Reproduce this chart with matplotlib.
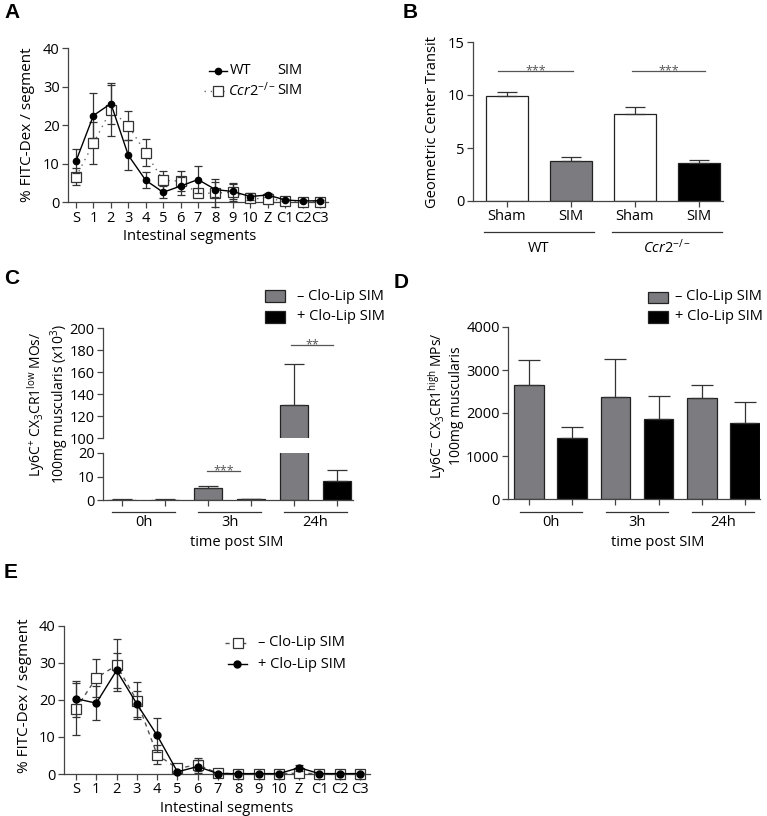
import matplotlib
matplotlib.use('Agg')
import matplotlib.pyplot as plt
import matplotlib.transforms as mtransforms
from matplotlib.lines import Line2D
from matplotlib.patches import Rectangle
import numpy as np

W, H = 767, 816

# ---- data ----
segments = ['S', '1', '2', '3', '4', '5', '6', '7', '8', '9', '10', 'Z', 'C1', 'C2', 'C3']

# panel A: WT SIM vs Ccr2-/- SIM
wt_mean = [10.7, 22.5, 25.6, 12.2, 5.7, 2.6, 4.2, 5.9, 3.3, 2.8, 1.5, 1.9, 0.6, 0.35, 0.4]
wt_err = [3.2, 5.8, 5.2, 3.9, 2.1, 1.6, 2.4, 3.5, 2.0, 2.0, 0.8, 0.5, 0.3, 0.2, 0.2]
ccr2_mean = [6.6, 15.3, 23.9, 19.9, 12.8, 5.7, 5.5, 2.3, 2.4, 2.6, 1.0, 0.9, 0.4, 0.2, 0.2]
ccr2_err = [2.2, 5.4, 6.6, 3.8, 3.5, 2.4, 2.6, 0.8, 3.6, 2.3, 1.0, 0.6, 0.3, 0.2, 0.2]

# panel B: geometric center
b_labels = ['Sham', 'SIM', 'Sham', 'SIM']
b_groups = ['WT', r'$\mathit{Ccr2}^{-/-}$']
b_mean = [9.95, 3.8, 8.2, 3.6]
b_err = [0.35, 0.35, 0.7, 0.23]
b_colors = ['white', '#7c7c80', 'white', 'black']

# panel C / D: time post SIM
times = ['0h', '3h', '24h']
c_minus = [0.2, 5.0, 130]
c_minus_err = [0.1, 1.1, 37]
c_plus = [0.2, 0.3, 8.1]
c_plus_err = [0.05, 0.05, 4.5]

d_minus = [2650, 2380, 2355]
d_minus_err = [580, 885, 300]
d_plus = [1430, 1850, 1765]
d_plus_err = [240, 550, 500]

# panel E: -/+ Clo-Lip SIM
minus_mean = [17.6, 25.9, 29.3, 19.8, 5.2, 1.5, 2.5, 0.2, 0.1, 0.1, 0.1, 0.2, 0.1, 0.1, 0.1]
minus_err = [7.0, 5.2, 7.0, 5.1, 2.6, 0.3, 1.8, 0.2, 0.1, 0.1, 0.1, 0.3, 0.1, 0.1, 0.1]
plus_mean = [20.3, 19.1, 27.9, 18.9, 10.4, 0.6, 2.0, 0.1, 0.1, 0.1, 0.1, 1.7, 0.1, 0.1, 0.1]
plus_err = [4.9, 4.5, 4.7, 3.6, 4.6, 0.3, 1.7, 0.1, 0.1, 0.1, 0.1, 0.8, 0.1, 0.1, 0.1]

# ---- style ----
plt.rcParams['font.family'] = ['Open Sans', 'DejaVu Sans']
plt.rcParams['mathtext.fontset'] = 'custom'
plt.rcParams['mathtext.rm'] = 'Open Sans'
plt.rcParams['mathtext.it'] = 'Open Sans:italic'
plt.rcParams['font.size'] = 10
plt.rcParams['axes.linewidth'] = 0.9
plt.rcParams['axes.edgecolor'] = '#444444'
plt.rcParams['xtick.color'] = '#444444'
plt.rcParams['ytick.color'] = '#444444'
plt.rcParams['xtick.labelcolor'] = 'black'
plt.rcParams['ytick.labelcolor'] = 'black'

GREY = '#7c7c80'
INK = '#333333'

fig = plt.figure(figsize=(W / 100, H / 100), dpi=100)


def fx(x):
    return x / W


def fy(y):
    return 1 - y / H


def box(x0, x1, ytop, ybot):
    return fig.add_axes([fx(x0), fy(ybot), (x1 - x0) / W, (ybot - ytop) / H])


def style(ax, bottom=True):
    ax.spines['top'].set_visible(False)
    ax.spines['right'].set_visible(False)
    if not bottom:
        ax.spines['bottom'].set_visible(False)
    ax.tick_params(direction='out', length=4, width=0.9, labelsize=10.5, pad=2)


def unclip(cont):
    line, caps, bars = cont.lines
    for a in [line, *caps, *bars]:
        if a is not None:
            a.set_clip_on(False)


def ftext(x, y, s, **kw):
    fig.text(fx(x), fy(y), s, ha=kw.pop('ha', 'center'), va=kw.pop('va', 'center'), **kw)


def fline(x0, x1, y, **kw):
    fig.add_artist(Line2D([fx(x0), fx(x1)], [fy(y), fy(y)], transform=fig.transFigure, **kw))


def fmarker(x, y, **kw):
    fig.add_artist(Line2D([fx(x)], [fy(y)], transform=fig.transFigure, ls='none', **kw))


def fbox(x0, x1, y0, y1, color):
    fig.add_artist(Rectangle((fx(x0), fy(y1)), (x1 - x0) / W, (y1 - y0) / H,
                             transform=fig.transFigure, facecolor=color,
                             edgecolor='#222222', lw=0.9))


def sig(ax, x0, x1, y, stars, off):
    ax.plot([x0, x1], [y, y], color='#555555', lw=0.9, clip_on=False)
    ax.text((x0 + x1) / 2, y - off, stars, ha='center', va='baseline',
            fontsize=9, color='#555555', clip_on=False)


def group_lines(ax, centers, half, labels, yline, ytext):
    trans = mtransforms.blended_transform_factory(ax.transData, fig.transFigure)
    for c, lab in zip(centers, labels):
        ax.plot([c - half, c + half], [fy(yline)] * 2, transform=trans,
                color=INK, lw=0.9, clip_on=False)
        ax.text(c, fy(ytext), lab, transform=trans, ha='center', va='center', fontsize=10.5)


x = np.arange(len(segments))

# ================= A =================
axA = box(68, 328, 48, 202.3)
c1 = axA.errorbar(x, ccr2_mean, yerr=ccr2_err, color='#666666', ls=(0, (1, 3.5)), lw=1,
                  marker='s', ms=7, mfc='white', mec=INK, mew=0.9,
                  ecolor=INK, elinewidth=0.9, capsize=3, capthick=0.9, zorder=3)
c2 = axA.errorbar(x, wt_mean, yerr=wt_err, color='black', ls='-', lw=1,
                  marker='o', ms=4.5, ecolor=INK, elinewidth=0.9, capsize=3,
                  capthick=0.9, zorder=4)
unclip(c1)
unclip(c2)
axA.set_xlim(-0.46, 14.46)
axA.set_ylim(0, 40)
axA.set_yticks([0, 10, 20, 30, 40])
axA.set_xticks(x)
axA.set_xticklabels(segments)
style(axA)
ftext(28, 125, '% FITC-Dex / segment', rotation=90, fontsize=11)
ftext(190, 236, 'Intestinal segments', fontsize=10.5)
# legend
fline(209, 227, 71, color='black', lw=1)
fmarker(218, 71, marker='o', ms=4.5, color='black')
ftext(230, 71, 'WT', ha='left', fontsize=10.5)
ftext(277, 71, 'SIM', ha='left', fontsize=10.5)
fline(204, 227, 91, color='#666666', lw=1, ls=(0, (1, 3.5)))
fmarker(218, 91, marker='s', ms=7, mfc='white', mec=INK, mew=0.9)
ftext(228, 91, r'$\mathit{Ccr2}^{-/-}$', ha='left', fontsize=10.5)
ftext(277, 91, 'SIM', ha='left', fontsize=10.5)

# ================= B =================
axB = box(473, 723, 42, 201)
xb = np.arange(len(b_mean))
axB.bar(xb, b_mean, width=0.66, color=b_colors, edgecolor='#222222', lw=0.9,
        yerr=[np.zeros(len(b_err)), b_err],
        error_kw=dict(capsize=7, elinewidth=0.9, capthick=0.9, ecolor=INK))
axB.set_xlim(-0.53, 3.375)
axB.set_ylim(0, 15)
axB.set_yticks([0, 5, 10, 15])
axB.set_xticks(xb)
axB.set_xticklabels(b_labels)
style(axB)
sig(axB, -0.14, 1.03, 12.3, '***', 0.3)
sig(axB, 1.95, 3.10, 12.3, '***', 0.3)
group_lines(axB, [0.5, 2.5], 0.86, b_groups, 232, 248)
ftext(433, 122, 'Geometric Center Transit', rotation=90, fontsize=10.5)

# ================= C =================
xc = np.arange(2 * len(times))
pos_minus = xc[0::2]
pos_plus = xc[1::2]
axCu = box(103, 353, 328, 438)
axCl = box(103, 353, 453, 500)
for ax in (axCu, axCl):
    ax.bar(pos_minus, c_minus, width=0.67, color=GREY, edgecolor='#222222', lw=0.9,
           yerr=[np.zeros(3), c_minus_err],
           error_kw=dict(capsize=7, elinewidth=0.9, capthick=0.9, ecolor=INK))
    ax.bar(pos_plus, c_plus, width=0.67, color='black', edgecolor='#222222', lw=0.9,
           yerr=[np.zeros(3), c_plus_err],
           error_kw=dict(capsize=7, elinewidth=0.9, capthick=0.9, ecolor=INK))
    ax.set_xlim(-0.44, 5.37)
axCu.set_ylim(100, 200)
axCu.set_yticks(np.arange(100, 201, 20))
axCu.set_xticks([])
style(axCu, bottom=False)
axCl.set_ylim(0, 20)
axCl.set_yticks([0, 10, 20])
axCl.set_xticks(xc)
axCl.set_xticklabels([])
style(axCl)
sig(axCl, 1.98, 2.74, 12.3, '***', 1.3)
sig(axCu, 3.93, 4.91, 184.5, '**', 2.8)
group_lines(axCl, (pos_minus + pos_plus) / 2, 0.73, times, 512, 523)
ftext(237, 543, 'time post SIM', fontsize=10.5)
ftext(48, 404, 'Ly6C$^{+}$ CX$_{3}$CR1$^{\\mathrm{low}}$ MOs/\n100mg muscularis (x10$^{3}$)',
      rotation=90, fontsize=10, linespacing=1.05, multialignment='center')
fbox(265, 285, 290, 302, GREY)
fbox(265, 285, 311, 323, 'black')
ftext(297, 296, '\u2013 Clo-Lip SIM', ha='left', fontsize=10.5)
ftext(297, 317, '+ Clo-Lip SIM', ha='left', fontsize=10.5)

# ================= D =================
axD = box(508, 760, 327, 499)
axD.bar(pos_minus, d_minus, width=0.69, color=GREY, edgecolor='#222222', lw=0.9,
        yerr=[np.zeros(3), d_minus_err],
        error_kw=dict(capsize=8, elinewidth=0.9, capthick=0.9, ecolor=INK))
axD.bar(pos_plus, d_plus, width=0.69, color='black', edgecolor='#222222', lw=0.9,
        yerr=[np.zeros(3), d_plus_err],
        error_kw=dict(capsize=8, elinewidth=0.9, capthick=0.9, ecolor=INK))
axD.set_xlim(-0.49, 5.35)
axD.set_ylim(0, 4000)
axD.set_yticks(np.arange(0, 4001, 1000))
axD.set_xticks(xc)
axD.set_xticklabels([])
style(axD)
group_lines(axD, (pos_minus + pos_plus) / 2, 0.72, times, 512, 523)
ftext(658, 543, 'time post SIM', fontsize=10.5)
ftext(445, 406, 'Ly6C$^{-}$ CX$_{3}$CR1$^{\\mathrm{high}}$ MPs/\n100mg muscularis',
      rotation=90, fontsize=10, linespacing=1.05, multialignment='center')
fbox(648, 668, 292, 303, GREY)
fbox(648, 668, 311, 323, 'black')
ftext(675, 297, '\u2013 Clo-Lip SIM', ha='left', fontsize=10.5)
ftext(675, 317, '+ Clo-Lip SIM', ha='left', fontsize=10.5)

# ================= E =================
axE = box(64, 370, 625.6, 774)
e1 = axE.errorbar(x, minus_mean, yerr=minus_err, color='#555555', ls=(0, (3, 3)), lw=1,
                  marker='s', ms=7, mfc='white', mec=INK, mew=0.9,
                  ecolor=INK, elinewidth=0.9, capsize=3, capthick=0.9, zorder=3)
e2 = axE.errorbar(x, plus_mean, yerr=plus_err, color='black', ls='-', lw=1,
                  marker='o', ms=5, ecolor=INK, elinewidth=0.9, capsize=3,
                  capthick=0.9, zorder=4)
unclip(e1)
unclip(e2)
axE.set_xlim(-0.59, 14.49)
axE.set_ylim(0, 40)
axE.set_yticks([0, 10, 20, 30, 40])
axE.set_xticks(x)
axE.set_xticklabels(segments)
style(axE)
ftext(25, 696, '% FITC-Dex / segment', rotation=90, fontsize=11)
ftext(227, 808, 'Intestinal segments', fontsize=10.5)
fline(225, 247, 643, color='#555555', lw=1, ls=(0, (3, 3)))
fmarker(238, 643, marker='s', ms=7, mfc='white', mec=INK, mew=0.9)
ftext(258, 643, '\u2013 Clo-Lip SIM', ha='left', fontsize=10.5)
fline(228, 247, 664, color='black', lw=1)
fmarker(237, 664, marker='o', ms=5, color='black')
ftext(258, 664, '+ Clo-Lip SIM', ha='left', fontsize=10.5)

# panel letters
for lab, (px, py) in zip('ABCDE', [(12, 12), (410, 12), (12, 279), (401, 283), (11, 573)]):
    fig.text(fx(px), fy(py), lab, ha='center', va='center', fontsize=15,
             fontweight='bold', family=['Liberation Sans', 'DejaVu Sans'])

fig.savefig('out.png', dpi=100)
